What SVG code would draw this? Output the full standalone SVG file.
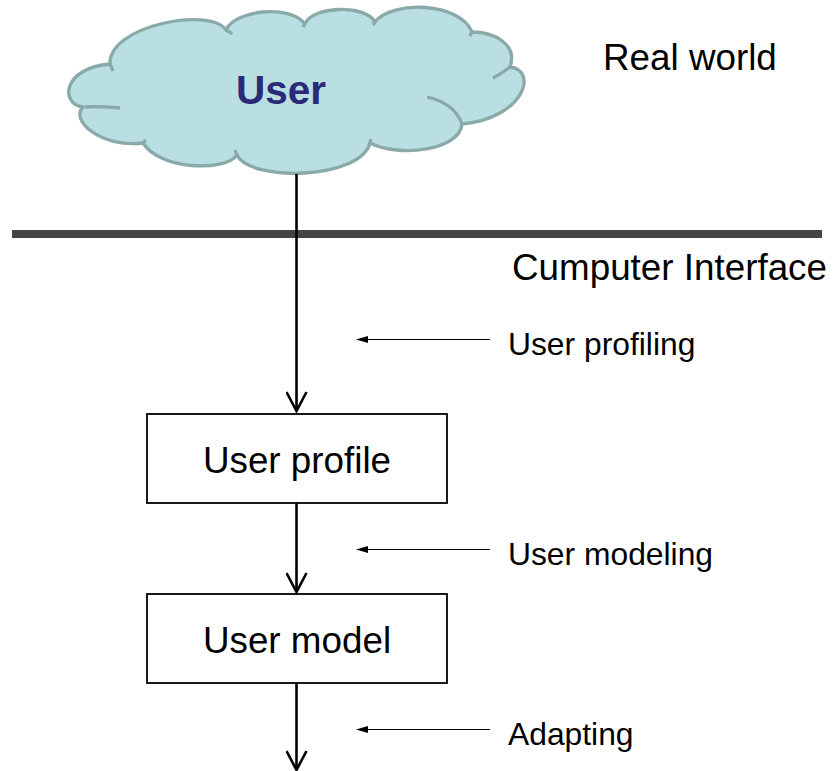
<svg xmlns="http://www.w3.org/2000/svg" width="833" height="771" viewBox="0 0 833 771">
<style>
.lbl{font-family:"Liberation Sans",Arial,sans-serif;fill:#000}
.big{font-size:36.8px}
.sm{font-size:31.8px}
.cloud{fill:#b9dfe2;stroke:#8aa9a9;stroke-width:3.3;stroke-linejoin:round}
.stub{fill:none;stroke:#8aa9a9;stroke-width:3.3;stroke-linecap:butt}
.box{fill:#fff;stroke:#000;stroke-width:1.8}
.main{stroke:#000;stroke-width:2.6;fill:none}
.thin{stroke:#000;stroke-width:1;fill:none}
</style>
<defs>
<marker id="open" viewBox="0 0 22 22" markerWidth="22" markerHeight="22" refX="20" refY="11" markerUnits="userSpaceOnUse" orient="auto">
<path d="M1,1 L20,11 L1,21" fill="none" stroke="#000" stroke-width="2.6"/>
</marker>
<marker id="tri" viewBox="0 0 12 8" markerWidth="12" markerHeight="8" refX="11" refY="4" markerUnits="userSpaceOnUse" orient="auto">
<path d="M0,0.5 L12,4 L0,7.5 Z" fill="#000"/>
</marker>
</defs>
<rect width="833" height="771" fill="#fff"/>
<g id="cloud-user">
<path class="cloud" d="M83,107 C60,104 62,68 110,64 C108,26 210,6 226,30 C235,10 290,4 305,24 C312,6 365,4 375,22 C392,0 460,2 472,32 C495,32 518,45 510,67 C538,70 525,118 462,124 C460,150 400,158 370,143 C360,180 250,182 237,155 C225,172 160,170 143,143 C100,148 70,120 83,107 Z"/>
<path class="stub" d="M85,107 C95,106 108,107 120,108"/>
<path class="stub" d="M110,64 C111,66 112,68 113,71"/>
<path class="stub" d="M226,30 C228,31 230,32 232,34"/>
<path class="stub" d="M305,24 L303,27"/>
<path class="stub" d="M375,22 L373,25"/>
<path class="stub" d="M472,32 L470,36"/>
<path class="stub" d="M510,67 C505,71 499,75 493,78"/>
<path class="stub" d="M427,97 C445,101 457,110 462,124"/>
<path class="stub" d="M370,143 L371,139"/>
<path class="stub" d="M237,155 L235,150"/>
<path class="stub" d="M143,143 L146,140"/>
<text x="281" y="104" text-anchor="middle" style="font-family:'Liberation Sans',Arial,sans-serif;font-weight:bold;font-size:40.5px;fill:#2a2a78">User</text>
</g>
<g id="boundary">
<rect x="12" y="230" width="810" height="8" fill="#444"/>
<text class="lbl big" x="603" y="70">Real world</text>
<text class="lbl big" x="512" y="280">Cumputer Interface</text>
</g>
<g id="node-user-profile">
<rect class="box" x="147" y="414" width="300" height="89"/>
<text class="lbl big" x="297" y="473" text-anchor="middle">User profile</text>
</g>
<g id="node-user-model">
<rect class="box" x="147" y="594" width="300" height="89"/>
<text class="lbl big" x="297" y="653" text-anchor="middle">User model</text>
</g>
<g id="connectors">
<line class="main" x1="296.5" y1="174" x2="296.5" y2="411" marker-end="url(#open)"/>
<line class="main" x1="296.5" y1="503" x2="296.5" y2="592" marker-end="url(#open)"/>
<line class="main" x1="296.5" y1="683" x2="296.5" y2="770" marker-end="url(#open)"/>
<line class="thin" x1="490" y1="339.5" x2="357" y2="339.5" marker-end="url(#tri)"/>
<line class="thin" x1="490" y1="549.5" x2="357" y2="549.5" marker-end="url(#tri)"/>
<line class="thin" x1="490" y1="729.5" x2="357" y2="729.5" marker-end="url(#tri)"/>
</g>
<g id="labels">
<text class="lbl sm" x="508" y="355">User profiling</text>
<text class="lbl sm" x="508" y="565">User modeling</text>
<text class="lbl sm" x="508" y="745">Adapting</text>
</g>
</svg>
